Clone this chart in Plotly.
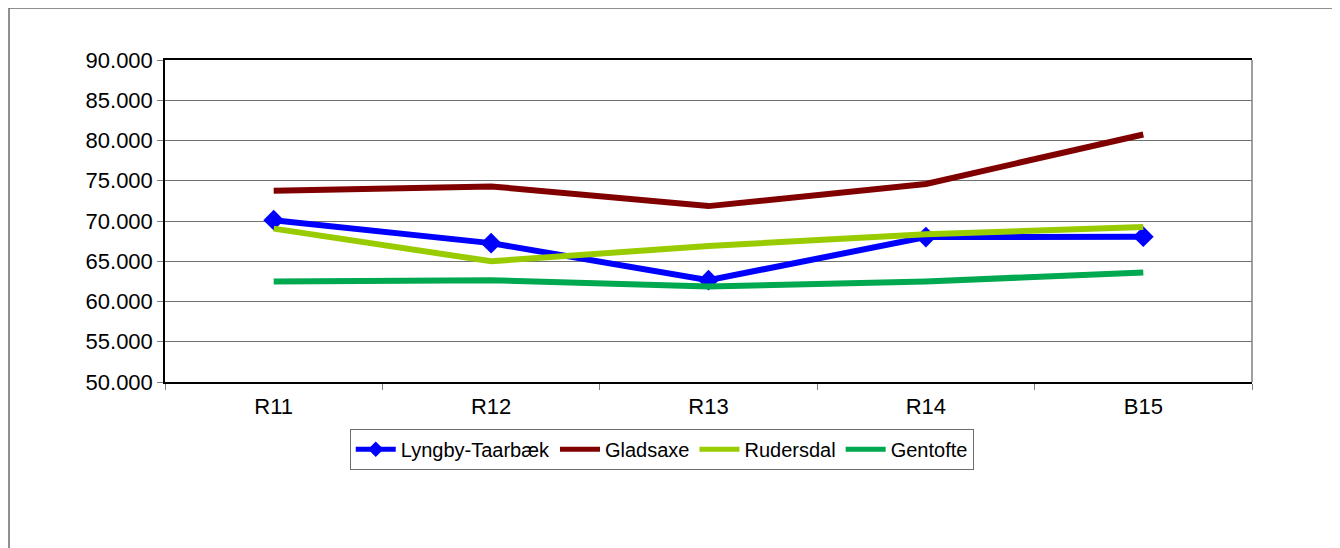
from plotly import graph_objs as go

periods = ['R11', 'R12', 'R13', 'R14', 'B15']

lyngby = [70100, 67250, 62650, 68000, 68050]
gladsaxe = [73750, 74300, 71850, 74600, 80750]
rudersdal = [69050, 65000, 66900, 68350, 69250]
gentofte = [62500, 62650, 61850, 62500, 63600]

y_ticks = [50000, 55000, 60000, 65000, 70000, 75000, 80000, 85000, 90000]
y_tick_labels = ['50.000', '55.000', '60.000', '65.000', '70.000', '75.000', '80.000', '85.000', '90.000']

fig = go.Figure()

fig.add_trace(go.Scatter(x=periods, y=lyngby, name='Lyngby-Taarbæk', mode='lines+markers',
                         line=dict(color='#0000FF', width=6),
                         marker=dict(symbol='diamond', size=16, color='#0000FF')))
fig.add_trace(go.Scatter(x=periods, y=gladsaxe, name='Gladsaxe', mode='lines',
                         line=dict(color='#800000', width=6)))
fig.add_trace(go.Scatter(x=periods, y=rudersdal, name='Rudersdal', mode='lines',
                         line=dict(color='#99CC00', width=6)))
fig.add_trace(go.Scatter(x=periods, y=gentofte, name='Gentofte', mode='lines',
                         line=dict(color='#00A84F', width=6)))

# outer chart border and plot-area frame
fig.add_shape(type='rect', xref='paper', yref='paper', x0=-0.1435, x1=1.09, y0=-0.6, y1=1.1615,
              line=dict(color='#6b6b6b', width=1.5), layer='below')
fig.add_shape(type='line', xref='paper', yref='paper', x0=1, x1=1, y0=0, y1=1,
              line=dict(color='#808080', width=1.5))

# page body has an 8px margin, so offsets are reduced by 8
fig.update_layout(
    width=1340,
    height=548,
    margin=dict(l=157, r=96, t=52, b=174),
    paper_bgcolor='white',
    plot_bgcolor='white',
    font=dict(family='Liberation Sans, Arial', color='black'),
    xaxis=dict(range=[-0.5, 4.5], showline=True, linecolor='black', linewidth=1.5, mirror=True,
               showgrid=False, ticks='outside', tickson='boundaries', ticklen=6, tickcolor='#808080',
               tickfont=dict(size=22), ticklabelstandoff=4),
    yaxis=dict(range=[50000, 90000], tickvals=y_ticks, ticktext=y_tick_labels,
               showline=True, linecolor='black', linewidth=1.5, zeroline=False,
               showgrid=True, gridcolor='#707070', gridwidth=1,
               ticks='outside', ticklen=6, tickcolor='#808080', tickfont=dict(size=22)),
    showlegend=True,
    legend=dict(orientation='h', x=0.457, xanchor='center', y=-0.145, yanchor='top',
                bordercolor='#6b6b6b', borderwidth=1, font=dict(size=20),
                itemwidth=40, itemsizing='constant', tracegroupgap=0),
)

fig.write_html("out.html")
